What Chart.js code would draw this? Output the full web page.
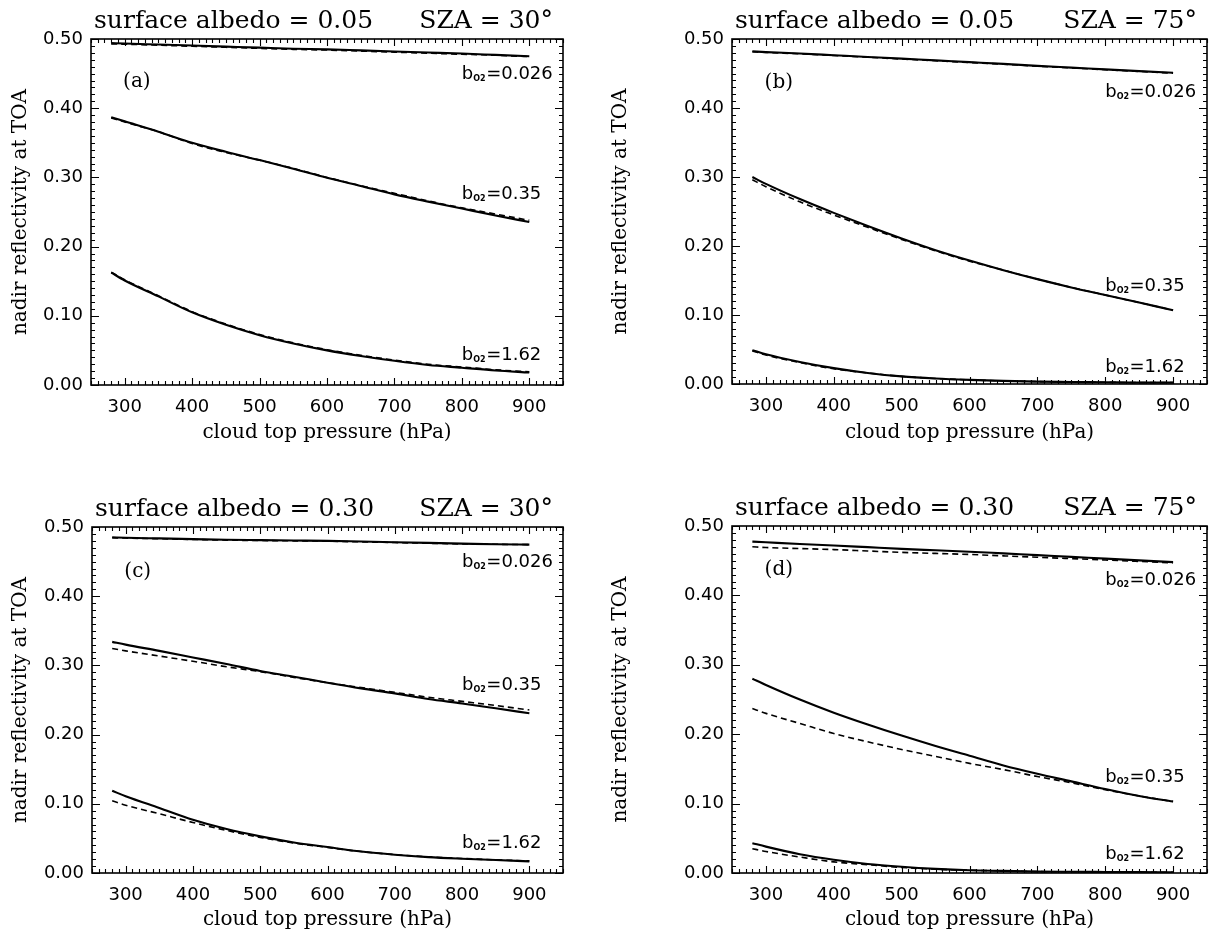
<!DOCTYPE html>
<html><head><meta charset="utf-8">
<script src="https://cdn.jsdelivr.net/npm/chart.js@4.4.0/dist/chart.umd.min.js"></script>
<style>
html,body{margin:0;padding:0;background:#fff;}
#wrap{position:relative;width:1209px;height:933px;overflow:hidden;background:#fff;}
.pane{position:absolute;}
canvas{display:block;}
</style></head><body>
<div id="wrap"></div>
<script>
// ---------------- data ----------------
const pressure = [280,300,350,400,450,500,550,600,650,700,750,800,850,900];
const xTickValues = [300,400,500,600,700,800,900];
const yTickValues = [0,0.1,0.2,0.3,0.4,0.5];
const bO2Values = ['0.026','0.35','1.62'];
const panelTags = ['(a)','(b)','(c)','(d)'];
const surfaceAlbedo = ['0.05','0.05','0.30','0.30'];
const szaDeg = ['30','75','30','75'];

// panel (a): albedo 0.05, SZA 30
const a_solid_026 = [0.494,0.4935,0.492,0.4905,0.489,0.4875,0.486,0.485,0.4835,0.482,0.4805,0.479,0.477,0.475];
const a_dash_026  = [0.493,0.4925,0.491,0.4895,0.488,0.4865,0.485,0.484,0.4825,0.481,0.4795,0.478,0.4765,0.4745];
const a_solid_035 = [0.387,0.381,0.366,0.350,0.337,0.325,0.3125,0.2995,0.2875,0.2755,0.265,0.255,0.245,0.2355];
const a_dash_035  = [0.386,0.380,0.366,0.349,0.336,0.325,0.313,0.300,0.288,0.277,0.266,0.256,0.247,0.238];
const a_solid_162 = [0.1625,0.151,0.128,0.105,0.087,0.072,0.060,0.050,0.042,0.035,0.029,0.025,0.021,0.018];
const a_dash_162  = [0.163,0.152,0.129,0.106,0.088,0.073,0.061,0.051,0.043,0.036,0.030,0.026,0.022,0.019];

// panel (b): albedo 0.05, SZA 75
const b_solid_026 = [0.482,0.481,0.479,0.4765,0.474,0.4715,0.469,0.4665,0.464,0.461,0.4585,0.456,0.4535,0.451];
const b_dash_026  = [0.4815,0.4805,0.4785,0.476,0.4735,0.471,0.4685,0.466,0.4635,0.4605,0.458,0.4555,0.453,0.4505];
const b_solid_035 = [0.300,0.290,0.268,0.248,0.229,0.211,0.194,0.179,0.165,0.152,0.140,0.129,0.118,0.107];
const b_dash_035  = [0.296,0.286,0.264,0.245,0.227,0.2095,0.193,0.178,0.165,0.152,0.140,0.129,0.118,0.107];
const b_solid_162 = [0.049,0.043,0.032,0.023,0.016,0.011,0.008,0.006,0.0045,0.0035,0.003,0.0025,0.002,0.002];
const b_dash_162  = [0.048,0.042,0.031,0.022,0.016,0.011,0.008,0.006,0.0045,0.0035,0.003,0.0025,0.002,0.002];

// panel (c): albedo 0.30, SZA 30
const c_solid_026 = [0.485,0.4845,0.4835,0.4825,0.4815,0.481,0.4805,0.480,0.479,0.478,0.477,0.476,0.475,0.4745];
const c_dash_026  = [0.4845,0.484,0.483,0.482,0.481,0.4805,0.480,0.4795,0.4785,0.4775,0.4765,0.4755,0.475,0.4745];
const c_solid_035 = [0.334,0.330,0.321,0.3115,0.302,0.292,0.2837,0.275,0.2668,0.2596,0.2514,0.245,0.238,0.2308];
const c_dash_035  = [0.3245,0.321,0.3135,0.306,0.298,0.291,0.2827,0.275,0.268,0.261,0.254,0.248,0.242,0.2356];
const c_solid_162 = [0.1188,0.111,0.094,0.077,0.0635,0.0529,0.0442,0.0375,0.031,0.0264,0.023,0.0207,0.0188,0.0168];
const c_dash_162  = [0.1043,0.098,0.0856,0.073,0.0615,0.0514,0.0433,0.037,0.031,0.0266,0.0233,0.021,0.019,0.0175];

// panel (d): albedo 0.30, SZA 75
const d_solid_026 = [0.4775,0.4765,0.474,0.472,0.4695,0.467,0.465,0.463,0.4605,0.458,0.4555,0.453,0.4505,0.448];
const d_dash_026  = [0.470,0.469,0.4675,0.466,0.464,0.462,0.4605,0.459,0.457,0.455,0.453,0.451,0.449,0.447];
const d_solid_035 = [0.280,0.271,0.250,0.231,0.214,0.198,0.183,0.169,0.155,0.143,0.132,0.121,0.111,0.103];
const d_dash_035  = [0.237,0.230,0.2155,0.201,0.189,0.178,0.168,0.158,0.149,0.139,0.130,0.120,0.111,0.103];
const d_solid_162 = [0.043,0.038,0.027,0.019,0.013,0.009,0.006,0.004,0.003,0.002,0.0018,0.0015,0.0012,0.001];
const d_dash_162  = [0.035,0.031,0.023,0.016,0.012,0.008,0.0055,0.004,0.003,0.002,0.0018,0.0015,0.0012,0.001];

const solidSeries = [
  [a_solid_026,a_solid_035,a_solid_162],
  [b_solid_026,b_solid_035,b_solid_162],
  [c_solid_026,c_solid_035,c_solid_162],
  [d_solid_026,d_solid_035,d_solid_162]];
const dashSeries = [
  [a_dash_026,a_dash_035,a_dash_162],
  [b_dash_026,b_dash_035,b_dash_162],
  [c_dash_026,c_dash_035,c_dash_162],
  [d_dash_026,d_dash_035,d_dash_162]];

// annotation anchors (in data units)
const labelAnchorP = 800;
const labelAnchorV = [[0.452,0.2775,0.046],[0.426,0.1435,0.0275],[0.452,0.2745,0.045],[0.425,0.141,0.029]];
const tagAnchor = [[318,0.438],[319,0.436],[318,0.435],[319,0.437]];

// ---------------- layout ----------------
const panes = [
  {left:0,   top:0,   w:600, h:466, l:91,  r:563, t:39, b:385, xtPad:21},
  {left:600, top:0,   w:609, h:466, l:132, r:607, t:39, b:384, xtPad:21},
  {left:0,   top:466, w:600, h:467, l:92,  r:563, t:61, b:407, xtPad:1},
  {left:600, top:466, w:609, h:467, l:132, r:607, t:60, b:407, xtPad:1}
];

const SERIF = '"DejaVu Serif", serif';
const SANS = '"DejaVu Sans", sans-serif';

const paperPlugin = {
  id: 'paper',
  afterDatasetsDraw(chart, args, opts) {
    const {ctx, chartArea: a, scales: {x, y}} = chart;
    const i = opts.index;
    ctx.save();
    ctx.strokeStyle = '#000';
    ctx.fillStyle = '#000';
    // frame
    ctx.lineWidth = 1.6;
    ctx.strokeRect(a.left, a.top, a.right - a.left, a.bottom - a.top);
    // inward ticks on all sides
    ctx.lineWidth = 1.1;
    ctx.beginPath();
    for (let p = x.min; p <= x.max + 1e-6; p += 10) {
      const px = Math.round(x.getPixelForValue(p)) + 0.5;
      const L = (Math.round(p) % 100 === 0) ? 7 : 4;
      ctx.moveTo(px, a.bottom); ctx.lineTo(px, a.bottom - L);
      ctx.moveTo(px, a.top); ctx.lineTo(px, a.top + L);
    }
    for (let k = 0; k <= 50; k++) {
      const py = Math.round(y.getPixelForValue(k / 100)) + 0.5;
      const L = (k % 10 === 0) ? 8 : 4;
      ctx.moveTo(a.left, py); ctx.lineTo(a.left + L, py);
      ctx.moveTo(a.right, py); ctx.lineTo(a.right - L, py);
    }
    ctx.stroke();

    // panel title
    ctx.font = '25px ' + SERIF;
    ctx.textBaseline = 'alphabetic';
    ctx.textAlign = 'left';
    ctx.fillText('surface albedo = ' + surfaceAlbedo[i], a.left + 3, a.top - 11);
    ctx.textAlign = 'right';
    ctx.fillText('SZA = ' + szaDeg[i] + '°', a.right - 10, a.top - 11);

    // panel tag
    ctx.font = '20px ' + SERIF;
    ctx.textAlign = 'center';
    ctx.textBaseline = 'middle';
    ctx.fillText(panelTags[i], x.getPixelForValue(tagAnchor[i][0]), y.getPixelForValue(tagAnchor[i][1]));

    // b_O2 labels
    ctx.textBaseline = 'alphabetic';
    ctx.textAlign = 'left';
    for (let k = 0; k < 3; k++) {
      let px = x.getPixelForValue(labelAnchorP);
      const py = y.getPixelForValue(labelAnchorV[i][k]) + 6.5;
      ctx.font = '18px ' + SANS;
      ctx.fillText('b', px, py);
      px += ctx.measureText('b').width;
      ctx.font = 'bold 8px ' + SANS;
      ctx.fillText('O2', px, py + 2);
      px += ctx.measureText('O2').width + 0.5;
      ctx.font = '18px ' + SANS;
      ctx.fillText('=' + bO2Values[k], px, py);
    }
    ctx.restore();
  }
};

panes.forEach((pn, i) => {
  const div = document.createElement('div');
  div.className = 'pane';
  div.style.left = pn.left + 'px'; div.style.top = pn.top + 'px';
  div.style.width = pn.w + 'px'; div.style.height = pn.h + 'px';
  const cv = document.createElement('canvas');
  cv.width = pn.w; cv.height = pn.h;
  cv.style.width = pn.w + 'px'; cv.style.height = pn.h + 'px';
  div.appendChild(cv);
  document.getElementById('wrap').appendChild(div);

  const datasets = [];
  for (let k = 0; k < 3; k++) {
    datasets.push({
      label: 'b_O2=' + bO2Values[k] + ' (solid)',
      data: pressure.map((p, j) => ({x: p, y: solidSeries[i][k][j]})),
      borderColor: '#000', borderWidth: 2.1, pointRadius: 0, fill: false,
      cubicInterpolationMode: 'monotone'
    });
    datasets.push({
      label: 'b_O2=' + bO2Values[k] + ' (dashed)',
      data: pressure.map((p, j) => ({x: p, y: dashSeries[i][k][j]})),
      borderColor: '#000', borderWidth: 1.6, borderDash: [6, 4], pointRadius: 0, fill: false,
      cubicInterpolationMode: 'monotone'
    });
  }

  new Chart(cv, {
    type: 'line',
    data: {datasets},
    plugins: [paperPlugin],
    options: {
      responsive: false,
      animation: false,
      devicePixelRatio: 1,
      layout: {padding: {left: 0, top: pn.t, right: pn.w - pn.r, bottom: 0}},
      plugins: {
        legend: {display: false},
        tooltip: {enabled: false},
        title: {display: false},
        paper: {index: i}
      },
      scales: {
        x: {
          type: 'linear', min: 250, max: 950,
          grid: {display: false, drawTicks: false},
          border: {display: false},
          afterBuildTicks: s => { s.ticks = xTickValues.map(v => ({value: v})); },
          afterFit: s => { s.height = pn.h - pn.b; },
          ticks: {color: '#000', font: {family: SANS, size: 18}, padding: 12, maxRotation: 0,
                  callback: v => String(v)},
          title: {display: true, text: 'cloud top pressure (hPa)', color: '#000',
                  font: {family: SERIF, size: 20}, padding: {top: 0, bottom: pn.xtPad}}
        },
        y: {
          type: 'linear', min: 0, max: 0.5,
          grid: {display: false, drawTicks: false},
          border: {display: false},
          afterBuildTicks: s => { s.ticks = yTickValues.map(v => ({value: v})); },
          afterFit: s => { s.width = pn.l; },
          ticks: {color: '#000', font: {family: SANS, size: 18}, padding: 8,
                  callback: v => Number(v).toFixed(2)},
          title: {display: true, text: 'nadir reflectivity at TOA', color: '#000',
                  font: {family: SERIF, size: 20}, padding: {top: 9, bottom: 0}}
        }
      }
    }
  });
});
</script>
</body></html>
